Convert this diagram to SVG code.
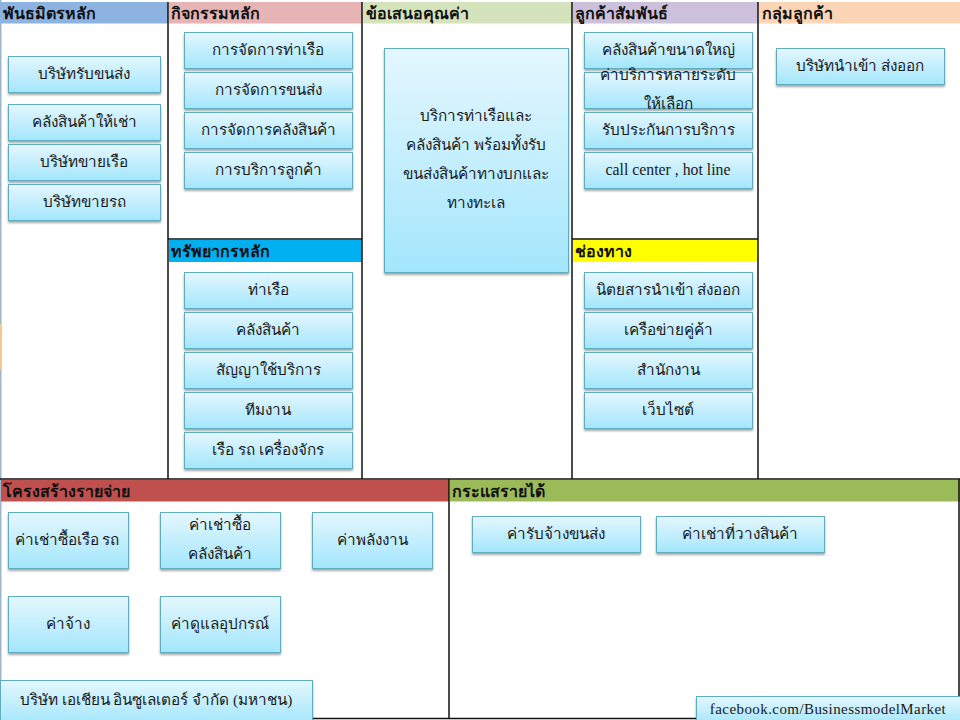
<svg xmlns="http://www.w3.org/2000/svg" width="960" height="720" viewBox="0 0 960 720">
<style>
.box{fill:url(#g);stroke:#5fabc0;stroke-width:1;filter:url(#s)}
.t{font-family:"Liberation Serif","Noto Sans",serif;font-size:15.300px;fill:#1a1a1a;text-anchor:middle}
.h{font-family:"Liberation Sans","Noto Sans",sans-serif;font-size:16px;font-weight:700;fill:#111}
.l{stroke:#111;stroke-width:1.500;fill:none}
</style>
<defs>
<linearGradient id="g" x1="0" y1="0" x2="0" y2="1"><stop offset="0" stop-color="#e4f7fe"/><stop offset="1" stop-color="#a3e6fc"/></linearGradient>
<filter id="s" x="-5%" y="-10%" width="110%" height="125%"><feDropShadow dx="0" dy="2" stdDeviation="1.200" flood-color="#000" flood-opacity="0.350"/></filter>
</defs>
<rect width="960" height="720" fill="#fff"/>
<rect x="0" y="0" width="1.500" height="720" fill="#9db7c9"/>
<rect x="0" y="324" width="2" height="46" fill="#f5c98a"/>
<g id="headers">
<rect x="0" y="2" width="168" height="21.500" fill="#8db3e2"/><text class="h" x="3" y="19">พันธมิตรหลัก</text>
<rect x="169" y="2" width="193" height="21.500" fill="#e6b4b4"/><text class="h" x="171" y="19">กิจกรรมหลัก</text>
<rect x="363" y="2" width="209" height="21.500" fill="#d5e3bd"/><text class="h" x="366" y="19">ข้อเสนอคุณค่า</text>
<rect x="573" y="2" width="185" height="21.500" fill="#ccc0da"/><text class="h" x="575" y="19">ลูกค้าสัมพันธ์</text>
<rect x="759" y="2" width="201" height="21.500" fill="#fbd5b5"/><text class="h" x="762" y="19">กลุ่มลูกค้า</text>
<rect x="169" y="240" width="193" height="22" fill="#00b0f0"/><text class="h" x="171" y="257">ทรัพยากรหลัก</text>
<rect x="573" y="240" width="185" height="22" fill="#ffff00"/><text class="h" x="575" y="257">ช่องทาง</text>
<rect x="1" y="480" width="448" height="21.500" fill="#c0504d"/><text class="h" x="3" y="497">โครงสร้างรายจ่าย</text>
<rect x="450" y="480" width="510" height="21.500" fill="#9bbb59"/><text class="h" x="452" y="497">กระแสรายได้</text>
</g>
<g id="connectors">
<path class="l" d="M168 2V479M362 2V479M572 2V479M758 2V479M168 239H362M572 239H758M0 479H960M449 479V718M0 718.500H960M959 479V718"/>
</g>
<g id="n1"><rect class="box" x="8.500" y="56.500" width="152" height="36"/><text class="t" x="84" y="79">บริษัทรับขนส่ง</text></g>
<g id="n2"><rect class="box" x="8.500" y="104.500" width="152" height="36"/><text class="t" x="84" y="127">คลังสินค้าให้เช่า</text></g>
<g id="n3"><rect class="box" x="8.500" y="144.500" width="152" height="36"/><text class="t" x="84" y="167">บริษัทขายเรือ</text></g>
<g id="n4"><rect class="box" x="8.500" y="184.500" width="152" height="36"/><text class="t" x="84" y="207">บริษัทขายรถ</text></g>
<g id="n5"><rect class="box" x="184.500" y="32.500" width="168" height="36"/><text class="t" x="268" y="55">การจัดการท่าเรือ</text></g>
<g id="n6"><rect class="box" x="184.500" y="72.500" width="168" height="36"/><text class="t" x="268" y="95">การจัดการขนส่ง</text></g>
<g id="n7"><rect class="box" x="184.500" y="112.500" width="168" height="36"/><text class="t" x="268" y="135">การจัดการคลังสินค้า</text></g>
<g id="n8"><rect class="box" x="184.500" y="152.500" width="168" height="36"/><text class="t" x="268" y="175">การบริการลูกค้า</text></g>
<g id="n9"><rect class="box" x="184.500" y="272.500" width="168" height="36"/><text class="t" x="268" y="295">ท่าเรือ</text></g>
<g id="n10"><rect class="box" x="184.500" y="312.500" width="168" height="36"/><text class="t" x="268" y="335">คลังสินค้า</text></g>
<g id="n11"><rect class="box" x="184.500" y="352.500" width="168" height="36"/><text class="t" x="268" y="375">สัญญาใช้บริการ</text></g>
<g id="n12"><rect class="box" x="184.500" y="392.500" width="168" height="36"/><text class="t" x="268" y="415">ทีมงาน</text></g>
<g id="n13"><rect class="box" x="184.500" y="432.500" width="168" height="36"/><text class="t" x="268" y="455">เรือ รถ เครื่องจักร</text></g>
<g id="n14"><rect class="box" x="384.500" y="48.500" width="184" height="224"/><text class="t" x="476" y="121">บริการท่าเรือและ</text><text class="t" x="476" y="150">คลังสินค้า พร้อมทั้งรับ</text><text class="t" x="476" y="179">ขนส่งสินค้าทางบกและ</text><text class="t" x="476" y="208">ทางทะเล</text></g>
<g id="n15"><rect class="box" x="584.500" y="32.500" width="168" height="36"/><text class="t" x="668" y="55">คลังสินค้าขนาดใหญ่</text></g>
<g id="n16"><rect class="box" x="584.500" y="72.500" width="168" height="36"/><text class="t" x="668" y="80">ค่าบริการหลายระดับ</text><text class="t" x="668" y="109">ให้เลือก</text></g>
<g id="n17"><rect class="box" x="584.500" y="112.500" width="168" height="36"/><text class="t" x="668" y="135">รับประกันการบริการ</text></g>
<g id="n18"><rect class="box" x="584.500" y="152.500" width="168" height="36"/><text class="t" x="668" y="175" style="font-size:15.800px">call center , hot line</text></g>
<g id="n19"><rect class="box" x="584.500" y="272.500" width="168" height="36"/><text class="t" x="668" y="295">นิตยสารนำเข้า ส่งออก</text></g>
<g id="n20"><rect class="box" x="584.500" y="312.500" width="168" height="36"/><text class="t" x="668" y="335">เครือข่ายคู่ค้า</text></g>
<g id="n21"><rect class="box" x="584.500" y="352.500" width="168" height="36"/><text class="t" x="668" y="375">สำนักงาน</text></g>
<g id="n22"><rect class="box" x="584.500" y="392.500" width="168" height="36"/><text class="t" x="668" y="415">เว็บไซต์</text></g>
<g id="n23"><rect class="box" x="776.500" y="48.500" width="168" height="36"/><text class="t" x="860" y="71">บริษัทนำเข้า ส่งออก</text></g>
<g id="n24"><rect class="box" x="8.500" y="512.500" width="120" height="56"/><text class="t" x="67" y="545">ค่าเช่าซื้อเรือ รถ</text></g>
<g id="n25"><rect class="box" x="160.500" y="512.500" width="120" height="56"/><text class="t" x="220" y="530">ค่าเช่าซื้อ</text><text class="t" x="220" y="559">คลังสินค้า</text></g>
<g id="n26"><rect class="box" x="312.500" y="512.500" width="120" height="56"/><text class="t" x="372" y="545">ค่าพลังงาน</text></g>
<g id="n27"><rect class="box" x="8.500" y="596.500" width="120" height="56"/><text class="t" x="68" y="629">ค่าจ้าง</text></g>
<g id="n28"><rect class="box" x="160.500" y="596.500" width="120" height="56"/><text class="t" x="220" y="629">ค่าดูแลอุปกรณ์</text></g>
<g id="n29"><rect class="box" x="472.500" y="516.500" width="168" height="36"/><text class="t" x="556" y="539">ค่ารับจ้างขนส่ง</text></g>
<g id="n30"><rect class="box" x="656.500" y="516.500" width="168" height="36"/><text class="t" x="740" y="539">ค่าเช่าที่วางสินค้า</text></g>
<g id="n31"><rect class="box" x="0.500" y="680.500" width="312" height="44"/><text class="t" x="156" y="705">บริษัท เอเชียน อินซูเลเตอร์ จำกัด (มหาชน)</text></g>
<g id="n32"><rect class="box" x="696.500" y="696.500" width="264" height="28"/><text class="t" x="828" y="714" style="font-size:15px;letter-spacing:.42px">facebook.com/BusinessmodelMarket</text></g>
</svg>
